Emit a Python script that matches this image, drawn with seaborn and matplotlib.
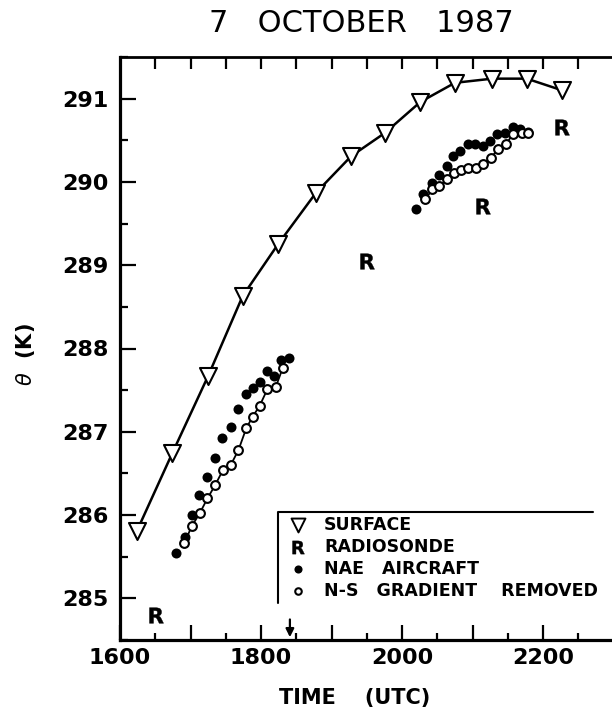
import numpy as np
import pandas as pd
import matplotlib
matplotlib.use("Agg")
import matplotlib.pyplot as plt
import seaborn as sns

# ---------------- data ----------------
surface_time = [1624, 1674, 1725, 1774, 1824, 1878, 1928, 1976, 2026, 2075, 2128, 2177, 2227]
surface_theta = [285.81, 286.74, 287.67, 288.63, 289.25, 289.87, 290.31, 290.59, 290.96,
                 291.19, 291.24, 291.24, 291.10]

radiosonde_time = [1651, 1950, 2115, 2227]
radiosonde_theta = [284.80, 289.05, 289.71, 290.66]

aircraft_time = [1680, 1692, 1702, 1712, 1724, 1735, 1744, 1757, 1768, 1779, 1788, 1798,
                 1809, 1818, 1829, 1840,
                 2020, 2030, 2043, 2052, 2064, 2072, 2082, 2094, 2104, 2115, 2125, 2135,
                 2146, 2157, 2167, 2179]
aircraft_theta = [285.54, 285.74, 286.00, 286.24, 286.46, 286.68, 286.93, 287.06, 287.27,
                  287.45, 287.53, 287.60, 287.73, 287.67, 287.86, 287.89,
                  289.68, 289.85, 289.99, 290.08, 290.19, 290.31, 290.37, 290.45, 290.45,
                  290.43, 290.49, 290.57, 290.59, 290.66, 290.64, 290.60]

ns_time = [1691, 1702, 1713, 1724, 1735, 1746, 1757, 1768, 1779, 1788, 1798, 1809, 1821, 1831,
           2033, 2043, 2052, 2064, 2074, 2084, 2094, 2105, 2115, 2126, 2136, 2148, 2157, 2170, 2179]
ns_theta = [285.66, 285.87, 286.02, 286.20, 286.36, 286.54, 286.60, 286.78, 287.04, 287.18,
            287.31, 287.51, 287.54, 287.77,
            289.79, 289.91, 289.95, 290.03, 290.11, 290.14, 290.17, 290.17, 290.21, 290.29,
            290.39, 290.46, 290.57, 290.59, 290.59]
ns_segment = [1] * 14 + [2] * 15

x_tick_values = [1600, 1700, 1800, 1900, 2000, 2100, 2200, 2300]
x_tick_labels = ["1600", "", "1800", "", "2000", "", "2200", ""]
x_minor_values = [1650, 1750, 1850, 1950, 2050, 2150, 2250]
top_tick_values = [1650, 1700, 1750, 1800, 1850, 1900, 1950, 2000, 2050, 2100, 2150, 2200, 2250]
y_tick_values = [285, 286, 287, 288, 289, 290, 291]
y_tick_labels = ["285", "286", "287", "288", "289", "290", "291"]
y_minor_values = [284.5, 285.5, 286.5, 287.5, 288.5, 289.5, 290.5, 291.5]

legend_labels = ["SURFACE", "RADIOSONDE", "NAE   AIRCRAFT", "N-S   GRADIENT    REMOVED"]
title_text = "7   OCTOBER   1987"
x_label = "TIME    (UTC)"
y_label = r"$\theta$  (K)"
arrow_time = 1841

# ---------------- style ----------------
sns.set_theme(style="white")
plt.rcParams["font.family"] = ["DejaVu Sans"]
plt.rcParams["text.color"] = "black"
plt.rcParams["axes.labelcolor"] = "black"
plt.rcParams["xtick.color"] = "black"
plt.rcParams["ytick.color"] = "black"
plt.rcParams["mathtext.fontset"] = "dejavusans"

W, H = 612, 713
fig = plt.figure(figsize=(W / 100, H / 100), dpi=100)
AX_L, AX_R, AX_T, AX_B = 120, 613.5, 57, 640
ax = fig.add_axes([AX_L / W, 1 - AX_B / H, (AX_R - AX_L) / W, (AX_B - AX_T) / H])

def px2ax(px, py):
    return (px - AX_L) / (AX_R - AX_L), (AX_B - py) / (AX_B - AX_T)

# surface
sns.lineplot(x=surface_time, y=surface_theta, color="black", lw=1.8, sort=False, ax=ax, zorder=2)
sns.scatterplot(x=surface_time, y=surface_theta, marker="v", s=150, color="white",
                edgecolor="black", linewidth=1.5, ax=ax, zorder=3)

# radiosonde
sns.scatterplot(x=radiosonde_time, y=radiosonde_theta, marker=r"$\mathbf{R}$", s=125,
                color="black", edgecolor="black", linewidth=0.3, ax=ax, zorder=3)

# aircraft (filled)
sns.scatterplot(x=aircraft_time, y=aircraft_theta, marker="o", s=52, color="black",
                edgecolor="black", linewidth=0, ax=ax, zorder=3)

# N-S gradient removed (open + line)
df_ns = pd.DataFrame({"t": ns_time, "theta": ns_theta, "seg": ns_segment})
sns.lineplot(data=df_ns, x="t", y="theta", units="seg", estimator=None, sort=False,
             color="black", lw=1.3, ax=ax, zorder=4)
sns.scatterplot(data=df_ns, x="t", y="theta", marker="o", s=40, color="white",
                edgecolor="black", linewidth=1.5, ax=ax, zorder=5)

# arrow at the x axis
ax.annotate("", xy=(arrow_time, 284.5), xytext=(arrow_time, 284.78),
            arrowprops=dict(arrowstyle="-|>", color="black", lw=1.6, mutation_scale=12),
            zorder=6)

# axes limits & ticks
ax.set_xlim(1600, 2300)
ax.set_ylim(284.5, 291.5)
ax.set_xticks(x_tick_values)
ax.set_xticklabels(x_tick_labels)
ax.set_xticks(x_minor_values, minor=True)
ax.set_yticks(y_tick_values)
ax.set_yticklabels(y_tick_labels)
ax.set_yticks(y_minor_values, minor=True)
ax.tick_params(axis="x", which="major", direction="in", length=10.8, width=1.6,
               labelsize=16, pad=6, bottom=True, top=False)
ax.tick_params(axis="x", which="minor", direction="in", length=5.0, width=1.6,
               bottom=True, top=False)
ax.tick_params(axis="y", which="major", direction="in", length=11.5, width=1.6,
               labelsize=16, pad=8, left=True, right=False)
ax.tick_params(axis="y", which="minor", direction="in", length=5.8, width=1.6,
               left=True, right=False)
for lab in ax.get_xticklabels() + ax.get_yticklabels():
    lab.set_fontweight("bold")

secax = ax.secondary_xaxis("top")
secax.set_xticks(top_tick_values)
secax.tick_params(direction="in", length=8.6, width=1.6, labeltop=False)
secax.spines["top"].set_visible(False)

for side in ["left", "bottom", "top"]:
    ax.spines[side].set_visible(True)
    ax.spines[side].set_color("black")
ax.spines["left"].set_linewidth(2.3)
ax.spines["bottom"].set_linewidth(2.3)
ax.spines["top"].set_linewidth(2.0)
ax.spines["right"].set_visible(False)
ax.grid(False)

# labels
ax.set_xlabel(x_label, fontsize=15, fontweight="bold")
ax.xaxis.set_label_coords(*px2ax(355, 688))
ax.xaxis.label.set_va("top")
ax.set_ylabel(y_label, fontsize=15, fontweight="bold")
ax.yaxis.set_label_coords(*px2ax(37, 355))
fig.text(361 / W, 1 - 23 / H, title_text, ha="center", va="center", fontsize=22)

# legend (frame with top and left edges only)
lx0, ly0 = px2ax(278, 512)
lx1, _ = px2ax(593, 512)
_, lyb = px2ax(278, 603)
ax.plot([lx0, lx0, lx1], [lyb, ly0, ly0], transform=ax.transAxes, color="black",
        lw=1.5, clip_on=False, zorder=6)
row_px = [525, 547, 569, 591]
sym_x = 298
txt_x = 324
leg_markers = [dict(marker="v", s=100, c="white", edgecolors="black", linewidths=1.4),
               dict(marker=r"$\mathbf{R}$", s=90, c="black", edgecolors="black", linewidths=0.3),
               dict(marker="o", s=34, c="black", edgecolors="black", linewidths=0),
               dict(marker="o", s=22, c="white", edgecolors="black", linewidths=1.5)]
for lab, py, mk in zip(legend_labels, row_px, leg_markers):
    sx, sy = px2ax(sym_x, py)
    ax.scatter([sx], [sy], transform=ax.transAxes, clip_on=False, zorder=7, **mk)
    tx, ty = px2ax(txt_x, py)
    ax.text(tx, ty, lab, transform=ax.transAxes, ha="left", va="center",
            fontsize=12.5, fontweight="bold")

fig.savefig("out.png", dpi=100)
